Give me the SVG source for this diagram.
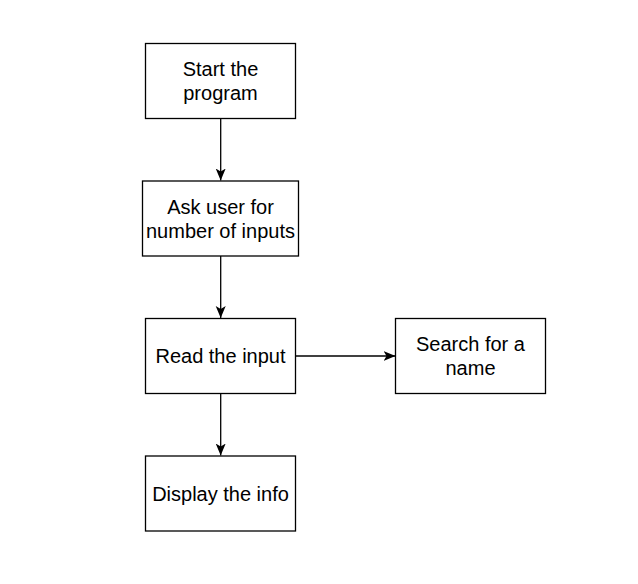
<svg xmlns="http://www.w3.org/2000/svg" width="638" height="584" viewBox="0 0 638 584">
<defs>
<style>
.box{fill:#fff;stroke:#000;stroke-width:1.3}
.lbl{font-family:"Liberation Sans",Arial,sans-serif;font-size:20px;fill:#000;text-anchor:middle}
.edge{stroke:#000;stroke-width:1.3;fill:none}
</style>
<marker id="arr" markerWidth="13" markerHeight="13" viewBox="0 0 13 13" refX="12" refY="6.5" orient="auto" markerUnits="userSpaceOnUse">
<path d="M0,1.5 L12,6.5 L0,11.5 L3,6.5 Z" fill="#000"/>
</marker>
</defs>
<rect width="638" height="584" fill="#fff"/>
<g id="connectors">
<path class="edge" d="M220.7,118.5 L220.7,180.5" marker-end="url(#arr)"/>
<path class="edge" d="M220.7,256 L220.7,318" marker-end="url(#arr)"/>
<path class="edge" d="M220.7,393.5 L220.7,455.5" marker-end="url(#arr)"/>
<path class="edge" d="M296,356 L395.5,356" marker-end="url(#arr)"/>
</g>
<g id="start">
<rect class="box" x="145.5" y="43.5" width="150" height="75"/>
<text class="lbl" x="220.5" y="76">Start the</text>
<text class="lbl" x="220.5" y="100">program</text>
</g>
<g id="ask">
<rect class="box" x="142.5" y="181" width="156" height="75"/>
<text class="lbl" x="220.5" y="213.5">Ask user for</text>
<text class="lbl" x="220.5" y="237.5">number of inputs</text>
</g>
<g id="read">
<rect class="box" x="145.5" y="318.5" width="150" height="75"/>
<text class="lbl" x="220.5" y="363">Read the input</text>
</g>
<g id="search">
<rect class="box" x="395.5" y="318.5" width="150" height="75"/>
<text class="lbl" x="470.5" y="351">Search for a</text>
<text class="lbl" x="470.5" y="375">name</text>
</g>
<g id="display">
<rect class="box" x="145.5" y="456" width="150" height="75"/>
<text class="lbl" x="220.5" y="500.5">Display the info</text>
</g>
</svg>
